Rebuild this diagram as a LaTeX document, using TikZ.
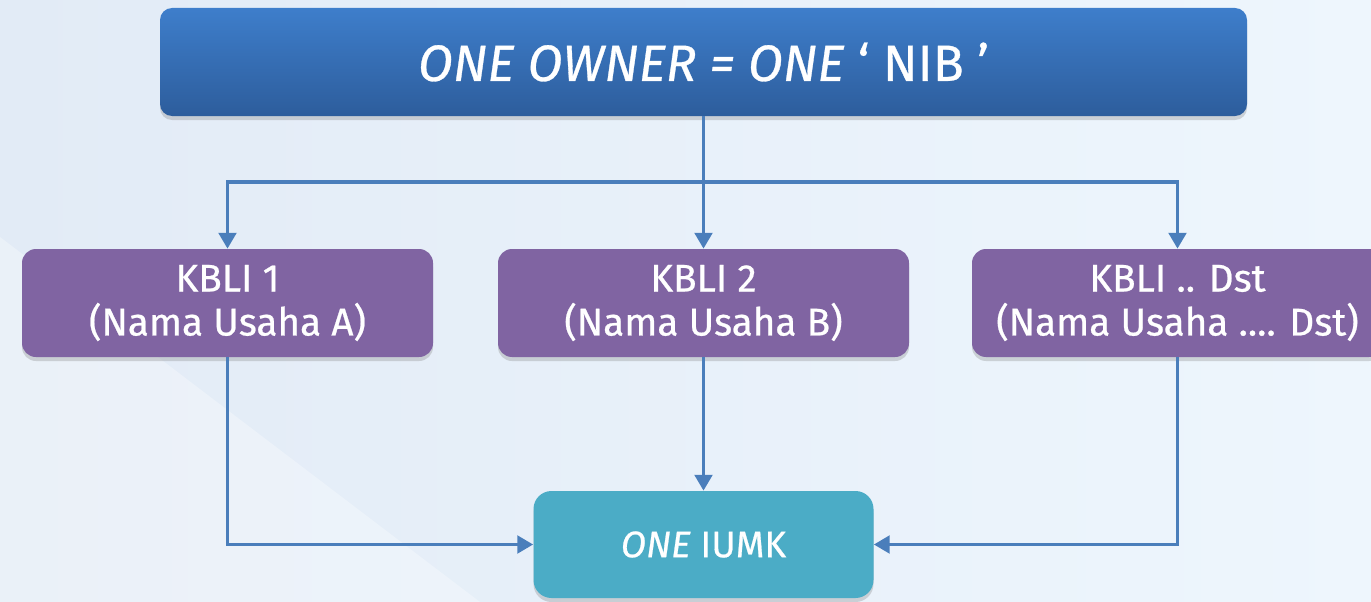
\documentclass[tikz,border=0pt]{standalone}
\usepackage{fontspec}
\setmainfont{Fira Sans}[UprightFeatures={FakeBold=0.6}, ItalicFeatures={FakeBold=0.6}]
\usetikzlibrary{arrows.meta, shadows}

\definecolor{bgleft}{RGB}{226,235,246}
\definecolor{bgright}{RGB}{238,246,253}
\definecolor{ownertop}{RGB}{62,126,203}
\definecolor{ownerbot}{RGB}{45,93,156}
\definecolor{kbli}{RGB}{128,100,162}
\definecolor{iumk}{RGB}{75,172,198}
\definecolor{linkblue}{RGB}{74,126,187}

\tikzset{
    boxshadow/.style={drop shadow={opacity=0.3, shadow xshift=0pt, shadow yshift=-0.08cm}},
    kblibox/.style={fill=kbli, rounded corners=0.28cm, minimum width=8.22cm, minimum height=2.16cm,
        inner sep=0pt, align=center, text=white, font=\fontsize{22}{25}\selectfont, boxshadow},
    link/.style={draw=linkblue, line width=1.9pt, -{Triangle[width=10pt,length=9pt]}}
}

\begin{document}
\begin{tikzpicture}
    \useasboundingbox (0,0) rectangle (27.42,-12.04);
    \shade[left color=bgleft, right color=bgright] (0,0) rectangle (27.42,-12.04);
    \fill[white, opacity=0.3] (0,-4.74) -- (9.6,-12.04) -- (0,-12.04) -- cycle;

    \coordinate (split) at (14.07,-3.64);

    \node[top color=ownertop, bottom color=ownerbot, rounded corners=0.24cm, minimum width=21.74cm,
        minimum height=2.16cm, inner sep=0pt, text=white, font=\fontsize{29}{32}\selectfont, boxshadow]
        (owner) at (14.07,-1.24) {\textit{ONE OWNER = ONE} ‘ NIB ’};

    \node[kblibox] (kbli1) at (4.55,-6.06) {KBLI 1\\(Nama Usaha A)};
    \node[kblibox] (kbli2) at (14.07,-6.06) {KBLI 2\\(Nama Usaha B)};
    \node[kblibox] (kbli3) at (23.55,-6.06) {KBLI .. Dst\\(Nama Usaha .... Dst)};

    \node[fill=iumk, rounded corners=0.36cm, minimum width=6.8cm, minimum height=2.14cm, inner sep=0pt,
        text=white, font=\fontsize{21}{24}\selectfont, boxshadow]
        (iumk) at (14.07,-10.89) {\textit{ONE} IUMK};

    \draw[link] (owner) -- (kbli2);
    \draw[link] (split) -| (kbli1);
    \draw[link] (split) -| (kbli3);

    \draw[link] (kbli1) |- (iumk);
    \draw[link] (kbli2) -- (iumk);
    \draw[link] (kbli3) |- (iumk);
\end{tikzpicture}
\end{document}
